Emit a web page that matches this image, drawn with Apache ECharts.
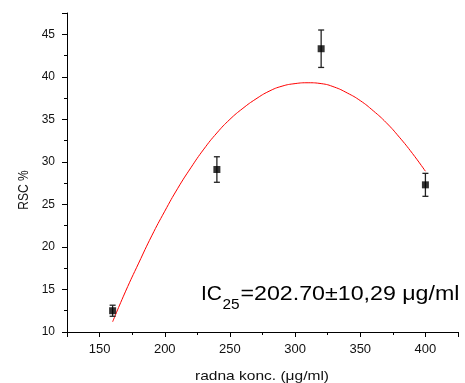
<!DOCTYPE html>
<html>
<head>
<meta charset="utf-8">
<script src="https://cdn.jsdelivr.net/npm/echarts@6/dist/echarts.min.js"></script>
<style>
html,body{margin:0;padding:0;background:#fff;}
#chart{width:465px;height:383px;}
</style>
</head>
<body>
<div id="chart"></div>
<script>
// Measured points (working concentration, RSC %, error)
const concentrations = [160, 240, 320, 400];
const rscMean = [12.5, 29.1, 43.3, 27.3];
const rscErr = [0.65, 1.5, 2.2, 1.35];
// Fitted curve
const fitX = [160, 170, 180, 190, 200, 210, 220, 230, 240, 250, 260, 270, 280, 290, 300, 310, 320, 330, 340, 350, 360, 370, 380, 390, 400];
const fitY = [11.2, 14.8, 18.1, 21.3, 24.2, 26.9, 29.3, 31.5, 33.4, 35.0, 36.3, 37.4, 38.3, 38.9, 39.2, 39.3, 39.2, 38.8, 38.1, 37.2, 36.0, 34.6, 32.9, 31.0, 28.9];
// Texts
const xAxisTitle = 'radna konc. (\u03bcg/ml)';
const yAxisTitle = 'RSC %';
const icMain = 'IC';
const icSub = '25';
const icRest = '=202.70\u00b110,29 \u03bcg/ml';

const FONT = '"Liberation Sans", Arial, sans-serif';

const points = concentrations.map((x, i) => [x, rscMean[i]]);
const bars = concentrations.map((x, i) => [x, rscMean[i] - rscErr[i], rscMean[i] + rscErr[i]]);
const fit = fitX.map((x, i) => [x, fitY[i]]);

const chart = echarts.init(document.getElementById('chart'), null, {renderer: 'canvas'});
chart.setOption({
  animation: false,
  backgroundColor: '#ffffff',
  grid: {left: 67, right: 7, top: 13, bottom: 51, containLabel: false},
  xAxis: {
    type: 'value', min: 125, max: 425, splitNumber: 6,
    axisLine: {show: true, onZero: false, lineStyle: {color: '#000', width: 1}},
    axisTick: {show: true, inside: false, length: 5, lineStyle: {color: '#000'}},
    minorTick: {show: true, splitNumber: 2, length: 3, lineStyle: {color: '#000'}},
    splitLine: {show: false},
    axisLabel: {show: true, margin: 11, color: '#111', fontFamily: FONT, fontSize: 13, showMinLabel: false, showMaxLabel: false}
  },
  yAxis: {
    type: 'value', min: 10, max: 47.5, interval: 5,
    axisLine: {show: true, onZero: false, lineStyle: {color: '#000', width: 1}},
    axisTick: {show: true, inside: false, length: 5, lineStyle: {color: '#000'}},
    minorTick: {show: true, splitNumber: 2, length: 3, lineStyle: {color: '#000'}},
    splitLine: {show: false},
    axisLabel: {show: true, margin: 12, color: '#111', fontFamily: FONT, fontSize: 12, showMaxLabel: false}
  },
  series: [
    {
      type: 'line', data: fit, smooth: 0.5, showSymbol: false, symbol: 'none',
      lineStyle: {color: '#ff0000', width: 1}, z: 2
    },
    {
      type: 'custom', data: bars, z: 3,
      renderItem: function (params, api) {
        const x = api.value(0);
        const lo = api.coord([x, api.value(1)]);
        const hi = api.coord([x, api.value(2)]);
        const cap = 3;
        const style = {stroke: '#222', lineWidth: 1.3, fill: null};
        return {
          type: 'group',
          children: [
            {type: 'line', shape: {x1: lo[0], y1: lo[1], x2: hi[0], y2: hi[1]}, style: style},
            {type: 'line', shape: {x1: lo[0] - cap, y1: lo[1], x2: lo[0] + cap, y2: lo[1]}, style: style},
            {type: 'line', shape: {x1: hi[0] - cap, y1: hi[1], x2: hi[0] + cap, y2: hi[1]}, style: style}
          ]
        };
      }
    },
    {
      type: 'scatter', data: points, symbol: 'rect', symbolSize: 7,
      itemStyle: {color: '#000'}, z: 4
    }
  ],
  graphic: [
    {type: 'text', x: 201, y: 294, scaleX: 1.05,
      style: {text: icMain, fontFamily: FONT, fontSize: 20, fill: '#000', textAlign: 'left', textVerticalAlign: 'middle', verticalAlign: 'middle'}},
    {type: 'text', x: 222.5, y: 305, scaleX: 1.1,
      style: {text: icSub, fontFamily: FONT, fontSize: 14, fill: '#000', textAlign: 'left', textVerticalAlign: 'middle', verticalAlign: 'middle'}},
    {type: 'text', x: 240.5, y: 294, scaleX: 1.16,
      style: {text: icRest, fontFamily: FONT, fontSize: 20, fill: '#000', textAlign: 'left', textVerticalAlign: 'middle', verticalAlign: 'middle'}},
    {type: 'text', x: 262, y: 376, scaleX: 1.15,
      style: {text: xAxisTitle, fontFamily: FONT, fontSize: 13.5, fill: '#111', textAlign: 'center', textVerticalAlign: 'middle', verticalAlign: 'middle'}},
    {type: 'text', x: 24, y: 190, rotation: Math.PI / 2, scaleX: 0.8,
      style: {text: yAxisTitle, fontFamily: FONT, fontSize: 15, fill: '#111', textAlign: 'center', textVerticalAlign: 'middle', verticalAlign: 'middle'}}
  ]
});
</script>
</body>
</html>
